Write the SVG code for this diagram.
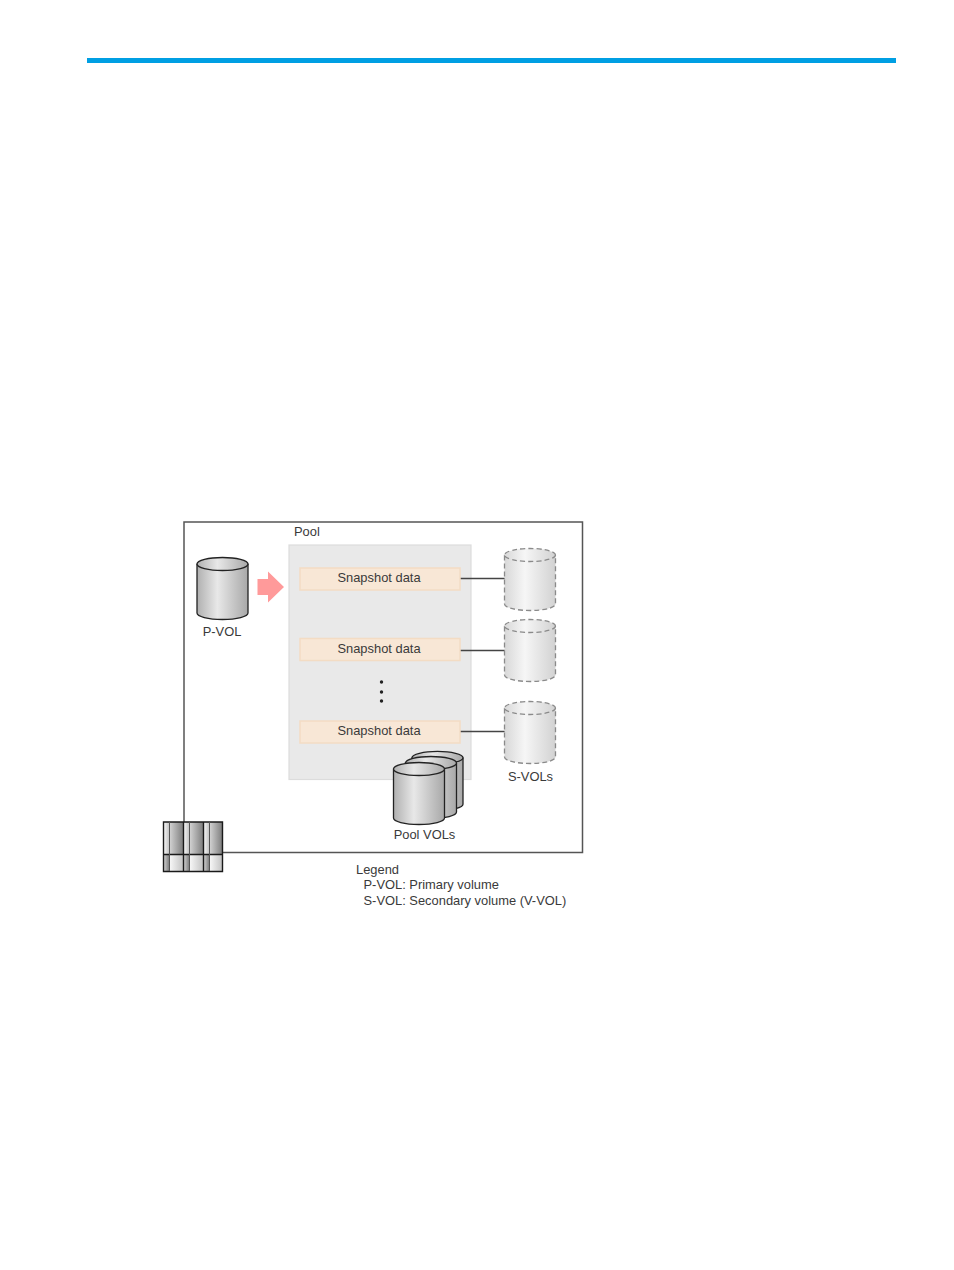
<svg xmlns="http://www.w3.org/2000/svg" width="954" height="1270" viewBox="0 0 954 1270">
<style>
text{font-family:"Liberation Sans",Arial,sans-serif;font-size:12.9px;fill:#3a3a3a}
.c{text-anchor:middle}
.snap{fill:#f8e7d6;stroke:#f3dcc4;stroke-width:1.5}
.cyl{fill:url(#g);stroke:#222;stroke-width:1.3}
.top{fill:url(#g);stroke:#222;stroke-width:1.3}
.dcyl{fill:url(#gl);stroke:#8a8a8a;stroke-width:1.3;stroke-dasharray:5 3}
.dtop{fill:url(#gl);stroke:#8a8a8a;stroke-width:1.3;stroke-dasharray:5 3}
.ln{stroke:#444;stroke-width:1.4;fill:none}
</style>
<defs>
<linearGradient id="g"><stop offset="0" stop-color="#b0b0b0"/><stop offset=".4" stop-color="#e8e8e8"/><stop offset="1" stop-color="#a8a8a8"/></linearGradient>
<linearGradient id="gl"><stop offset="0" stop-color="#d8d8d8"/><stop offset=".4" stop-color="#f6f6f6"/><stop offset="1" stop-color="#d2d2d2"/></linearGradient>
<linearGradient id="d"><stop offset="0" stop-color="#d0d0d0"/><stop offset="1" stop-color="#808080"/></linearGradient>
<linearGradient id="w"><stop offset="0" stop-color="#f6f6f6"/><stop offset="1" stop-color="#c4c4c4"/></linearGradient>
<path id="cb" d="M0 7.500V56C0 59.500 11 62.500 25.500 62.500S51 59.500 51 56V7.500Z"/>
<ellipse id="ct" cx="25.500" cy="7" rx="25.500" ry="6.500"/>
</defs>
<rect id="topbar" x="87" y="58" width="809" height="5" fill="#009fe3"/>
<g id="connectors">
<path d="M184 822V522H582.500V852.500H222" stroke="#555" stroke-width="1.500" fill="none"/>
</g>
<g id="pool"><rect x="289" y="545" width="182" height="234.500" fill="#e9e9e9" stroke="#dcdcdc" stroke-width="1.200"/><text x="294" y="536">Pool</text></g>
<g id="links">
<path class="ln" d="M460 578.500H505M460 650.500H505M460 731.500H505"/>
</g>
<g id="pvol"><g transform="translate(197 557)"><use href="#cb" class="cyl"/><use href="#ct" class="top"/></g><text x="222" y="636" class="c">P-VOL</text></g>
<path id="arrow" d="M257.500 579H268V571.500L284 587L268 602.500V595H257.500Z" fill="#ff9a9a"/>
<g id="snap1"><rect class="snap" x="300" y="568" width="160" height="22"/><text x="379" y="582" class="c">Snapshot data</text></g>
<g id="snap2"><rect class="snap" x="300" y="638.500" width="160" height="22"/><text x="379" y="652.500" class="c">Snapshot data</text></g>
<g id="snap3"><rect class="snap" x="300" y="721" width="160" height="22"/><text x="379" y="735" class="c">Snapshot data</text></g>
<g id="dots" fill="#222"><circle cx="381.500" cy="682" r="1.700"/><circle cx="381.500" cy="692" r="1.700"/><circle cx="381.500" cy="701" r="1.700"/></g>
<g id="svol1" transform="translate(504.500 548)"><use href="#cb" class="dcyl"/><use href="#ct" class="dtop"/></g>
<g id="svol2" transform="translate(504.500 619)"><use href="#cb" class="dcyl"/><use href="#ct" class="dtop"/></g>
<g id="svol3" transform="translate(504.500 701)"><use href="#cb" class="dcyl"/><use href="#ct" class="dtop"/></g>
<text x="530.500" y="781" class="c">S-VOLs</text>
<g id="poolvols">
<g transform="translate(412 751) scale(1 .95)"><use href="#cb" class="cyl"/><use href="#ct" class="top"/></g>
<g transform="translate(405.500 756)"><use href="#cb" class="cyl"/><use href="#ct" class="top"/></g>
<g transform="translate(393.500 762)"><use href="#cb" class="cyl"/><use href="#ct" class="top"/></g>
<text x="424.500" y="839" class="c">Pool VOLs</text>
</g>
<g id="storage">
<rect x="164" y="822" width="58" height="49" fill="#ddd"/>
<rect x="164" y="822" width="5" height="32" fill="url(#w)"/><rect x="170" y="822" width="13" height="32" fill="url(#d)"/>
<rect x="184" y="822" width="5" height="32" fill="url(#w)"/><rect x="190" y="822" width="13" height="32" fill="url(#d)"/>
<rect x="204" y="822" width="5" height="32" fill="url(#w)"/><rect x="210" y="822" width="12" height="32" fill="url(#d)"/>
<rect x="164" y="855" width="5" height="16" fill="url(#d)"/><rect x="170" y="855" width="13" height="16" fill="url(#w)"/>
<rect x="184" y="855" width="5" height="16" fill="url(#d)"/><rect x="190" y="855" width="13" height="16" fill="url(#w)"/>
<rect x="204" y="855" width="5" height="16" fill="url(#d)"/><rect x="210" y="855" width="12" height="16" fill="url(#w)"/>
<path d="M163.500 822H222.500V871.500H163.500ZM183.500 822V871M203.500 822V871M163.500 854.500H222.500" fill="none" stroke="#1a1a1a" stroke-width="1.400"/>
<path d="M169.500 822V871M189.500 822V871M209.500 822V871" fill="none" stroke="#555" stroke-width="1"/>
</g>
<g id="legend">
<text x="356" y="874">Legend</text>
<text x="363.500" y="889">P-VOL: Primary volume</text>
<text x="363.500" y="905">S-VOL: Secondary volume (V-VOL)</text>
</g>
</svg>
